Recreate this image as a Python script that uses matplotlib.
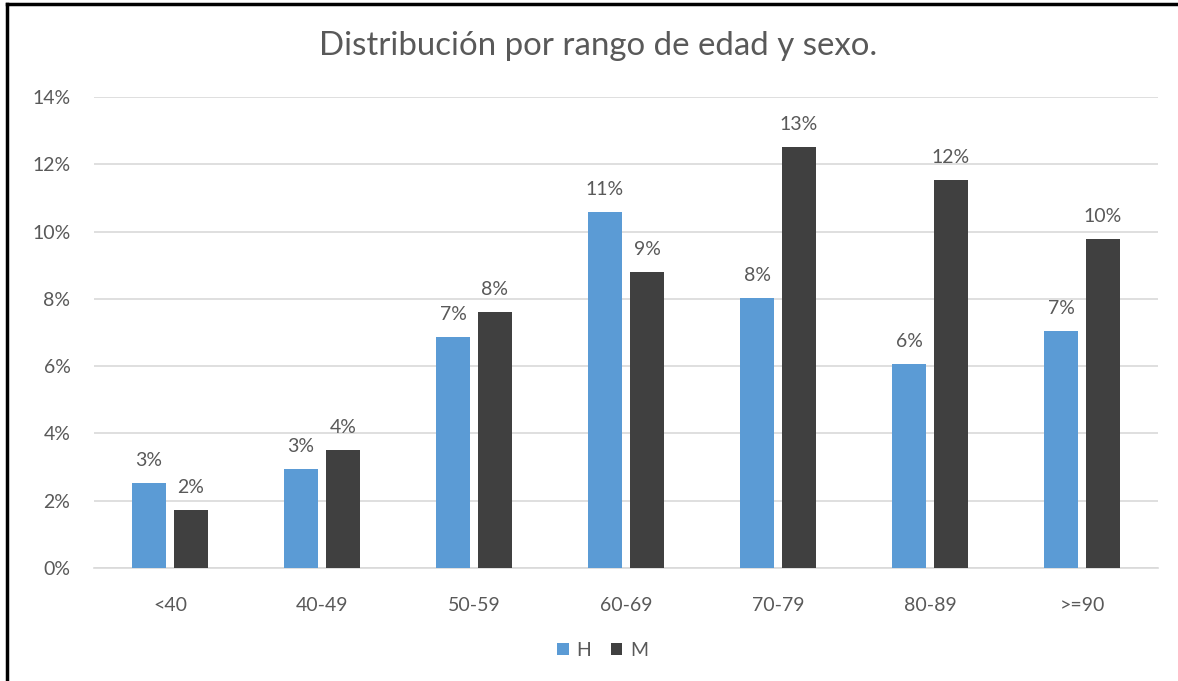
import numpy as np
import matplotlib.pyplot as plt
from matplotlib.lines import Line2D
from matplotlib.ticker import FuncFormatter

# Porcentaje de pacientes por rango de edad y sexo
rangos = ['<40', '40-49', '50-59', '60-69', '70-79', '80-89', '>=90']
hombres = [2.53, 2.94, 6.87, 10.58, 8.03, 6.06, 7.05]
mujeres = [1.72, 3.51, 7.61, 8.80, 12.51, 11.53, 9.78]

azul = '#5B9BD5'
gris_oscuro = '#404040'
texto = '#595959'

plt.rcParams['font.family'] = ['Lato', 'DejaVu Sans']

fig = plt.figure(figsize=(11.78, 6.81), dpi=100)
ax = fig.add_axes([0.0798, 0.166, 0.9032, 0.6916])

x = np.arange(len(rangos))
ancho = 0.224
desp = 0.138

b1 = ax.bar(x - desp, hombres, ancho, color=azul, label='H', zorder=3)
b2 = ax.bar(x + desp, mujeres, ancho, color=gris_oscuro, label='M', zorder=3)

for barras, valores in ((b1, hombres), (b2, mujeres)):
    for b, v in zip(barras, valores):
        ax.text(b.get_x() + b.get_width() / 2, v + 0.42, f'{v:.0f}%',
                ha='center', va='bottom', fontsize=14, color=texto)

ax.set_xlim(-0.5, len(rangos) - 0.5)
ax.set_ylim(0, 14)
ax.set_yticks(np.arange(0, 15, 2))
ax.yaxis.set_major_formatter(FuncFormatter(lambda v, _: f'{v:.0f}%'))
ax.set_xticks(x)
ax.set_xticklabels(rangos)
ax.tick_params(axis='both', length=0, labelsize=14, labelcolor=texto)
ax.tick_params(axis='x', pad=21)
ax.tick_params(axis='y', pad=17)

ax.grid(axis='y', color='#D9D9D9', linewidth=1.2, zorder=0)
for s in ('top', 'right', 'left'):
    ax.spines[s].set_visible(False)
ax.spines['bottom'].set_color('#D9D9D9')
ax.spines['bottom'].set_linewidth(1.2)

fig.text(0.508, 0.932, 'Distribución por rango de edad y sexo.', ha='center',
         va='center', fontsize=23.8, color=texto)

ax.legend(loc='center', bbox_to_anchor=(0.478, -0.175), ncol=2, frameon=False,
          fontsize=14, labelcolor=texto, handlelength=0.6, handleheight=0.6,
          handletextpad=0.4, columnspacing=1.0)

# marco de la imagen: solo borde superior e izquierdo
fig.add_artist(Line2D([0.0059, 1.0], [0.9941, 0.9941], color='black', linewidth=2.5,
                      transform=fig.transFigure))
fig.add_artist(Line2D([0.0059, 0.0059], [0.0, 0.9941], color='black', linewidth=2.5,
                      transform=fig.transFigure))

fig.savefig('out.png', dpi=100, facecolor='white')
